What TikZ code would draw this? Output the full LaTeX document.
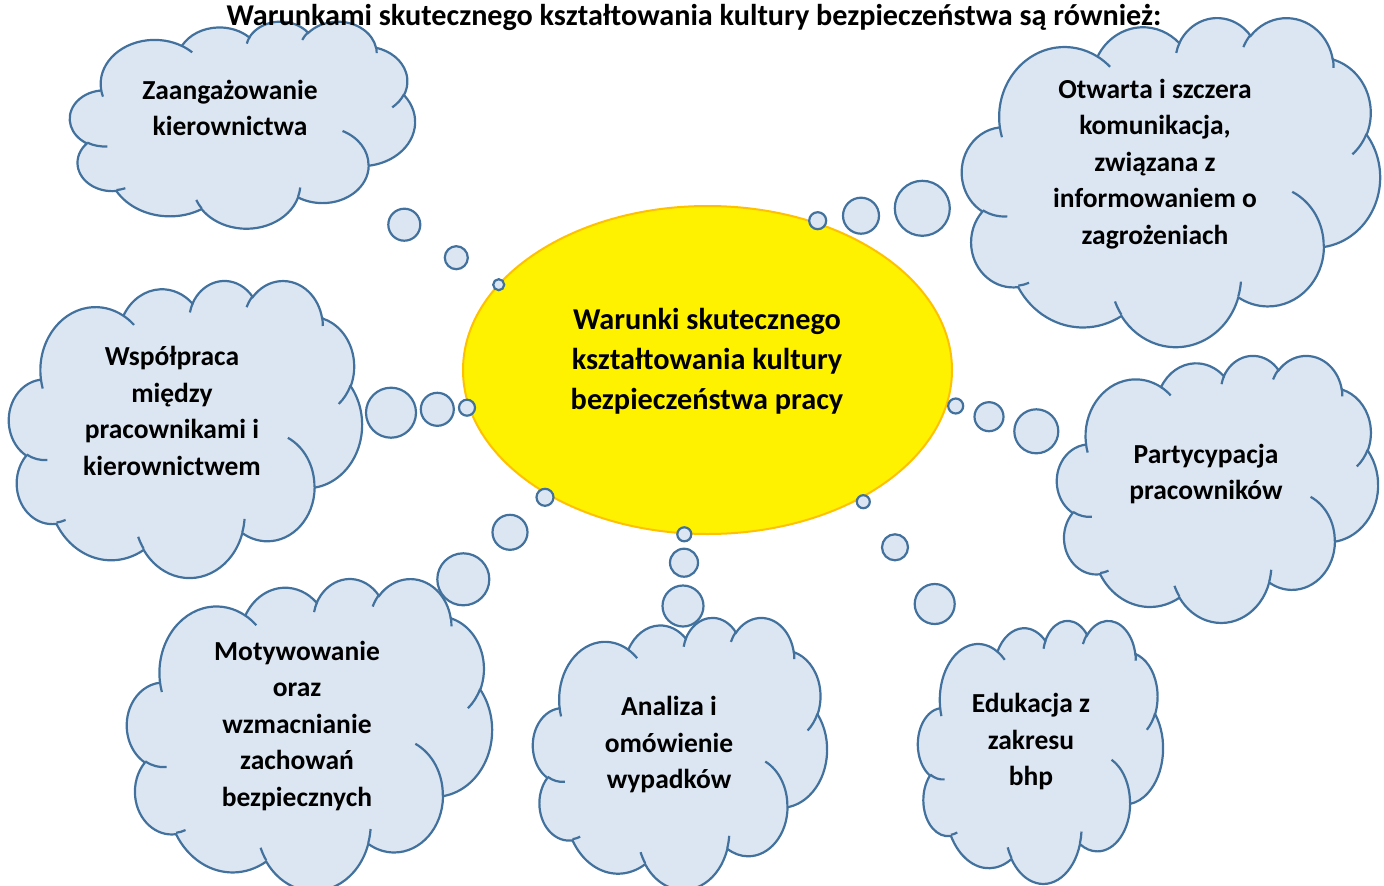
\documentclass[tikz,border=0pt]{standalone}
\usepackage{fontspec}
\setmainfont{Carlito}
\usetikzlibrary{shapes.geometric}
\definecolor{cloudfill}{HTML}{DCE6F2}
\definecolor{cloudline}{HTML}{41719C}
\definecolor{coreline}{HTML}{FFC000}
\tikzset{
  oa/.style n args={4}{x radius=#1pt, y radius=#2pt,
    start angle={atan2(#1*sin(#3),#2*cos(#3))},
    delta angle={mod(atan2(#1*sin(#3+#4),#2*cos(#3+#4))-atan2(#1*sin(#3),#2*cos(#3))+720,360)}},
  cloudshape/.style={fill=cloudfill, draw=cloudline, line width=2.2pt},
  cloudinner/.style={draw=cloudline, line width=2.2pt},
  bubble/.style={circle, fill=cloudfill, draw=cloudline, line width=2.2pt, inner sep=0pt, outer sep=0pt},
  cloudtext/.style={align=center, inner sep=0pt, font=\fontsize{27.5}{36.5}\selectfont\bfseries},
  coretext/.style={align=center, inner sep=0pt, font=\fontsize{30.3}{39.8}\selectfont\bfseries},
  titletext/.style={inner sep=0pt, font=\fontsize{30.2}{34}\selectfont\bfseries},
  core/.style={ellipse, fill=yellow, draw=coreline, line width=2pt, inner sep=0pt}
}
\newcommand\ocloud[5]{%
\begin{scope}[shift={(#2,#3)}, xscale=#4/43.2, yscale=-#5/43.2]
 \path[cloudshape] (3.9pt,14.37pt)
  arc[oa={6.753}{9.190}{-190.4875}{123.7805}]
  arc[oa={5.333}{7.267}{-144.1024}{89.9452}]
  arc[oa={4.365}{5.945}{-145.8079}{99.7230}]
  arc[oa={4.857}{6.595}{-130.9861}{117.2417}]
  arc[oa={5.333}{7.273}{-78.7089}{109.0269}]
  arc[oa={6.775}{9.220}{-46.2673}{130.2690}]
  arc[oa={5.785}{7.867}{0.6250}{114.0333}]
  arc[oa={6.752}{9.215}{22.4516}{115.1726}]
  arc[oa={7.720}{10.543}{66.2426}{75.7110}]
  arc[oa={4.360}{5.918}{-274.9421}{146.7356}]
  arc[oa={4.345}{5.945}{-246.8285}{152.5189}]
  -- cycle;
 \path[cloudinner] (4.693pt,26.177pt) arc[oa={4.345}{5.945}{86.742}{26.4295}]
   (6.928pt,34.899pt) arc[oa={4.360}{5.918}{73.6105}{11.4475}]
   (16.478pt,39.090pt) arc[oa={6.752}{9.215}{137.6242}{14.0811}]
   (28.827pt,34.751pt) arc[oa={6.752}{9.215}{6.4533}{15.9984}]
   (34.129pt,22.954pt) arc[oa={5.785}{7.867}{-70.2924}{70.9174}]
   (41.798pt,15.354pt) arc[oa={5.333}{7.273}{30.3180}{27.7515}]
   (38.324pt,5.426pt) arc[oa={4.857}{6.595}{-13.7443}{14.8589}]
   (29.078pt,3.952pt) arc[oa={4.857}{6.595}{-149.1815}{18.1954}]
   (22.141pt,4.720pt) arc[oa={4.365}{5.945}{-163.4943}{17.6864}]
   (14.000pt,5.192pt) arc[oa={6.753}{9.190}{-66.7070}{12.3194}]
   (4.127pt,15.789pt) arc[oa={6.753}{9.190}{157.64}{11.87}];
 \coordinate (#1) at (21.6pt,21.6pt);
\end{scope}}
\begin{document}
\begin{tikzpicture}[x=1pt,y=-1pt]
\useasboundingbox (0,0) rectangle (1384,886);
% clouds
\ocloud{c1}{70}{21}{345}{207}
\ocloud{c2}{962}{17}{418}{329}
\ocloud{c3}{9}{280}{353}{297}
\ocloud{c4}{1057}{355}{321}{267}
\ocloud{c5}{127}{578}{365}{312}
\ocloud{c6}{533}{617}{294}{272}
\ocloud{c7}{918}{620}{245}{263}
% central ellipse
\node[core, minimum width=489, minimum height=328] (core) at (707.5,370) {};
\node[coretext] (coretxt) at (707,361.5) {Warunki skutecznego\\kształtowania kultury\\bezpieczeństwa pracy};
% bubbles
\node[bubble, minimum size=32] (b11) at (404.3,224.7) {};
\node[bubble, minimum size=23] (b12) at (456.3,257.7) {};
\node[bubble, minimum size=11] (b13) at (498.7,284.7) {};
\node[bubble, minimum size=17] (b21) at (817.7,220.7) {};
\node[bubble, minimum size=36] (b22) at (861,215.7) {};
\node[bubble, minimum size=55] (b23) at (922.3,208.3) {};
\node[bubble, minimum size=50] (b31) at (391,412.7) {};
\node[bubble, minimum size=33] (b32) at (437.3,409.3) {};
\node[bubble, minimum size=16] (b33) at (467,407.7) {};
\node[bubble, minimum size=15] (b41) at (955.7,406) {};
\node[bubble, minimum size=29] (b42) at (989,416.7) {};
\node[bubble, minimum size=44] (b43) at (1036.3,431.3) {};
\node[bubble, minimum size=17] (b51) at (545,497.3) {};
\node[bubble, minimum size=35] (b52) at (510,532.3) {};
\node[bubble, minimum size=52] (b53) at (463.3,579.3) {};
\node[bubble, minimum size=14] (b61) at (684.3,534.3) {};
\node[bubble, minimum size=28] (b62) at (684,562.7) {};
\node[bubble, minimum size=41] (b63) at (683,606) {};
\node[bubble, minimum size=13] (b71) at (863.3,501.7) {};
\node[bubble, minimum size=26] (b72) at (895,547.3) {};
\node[bubble, minimum size=40] (b73) at (934.7,604) {};
% texts
\node[titletext] (title) at (694,17) {Warunkami skutecznego kształtowania kultury bezpieczeństwa są również:};
\node[cloudtext] (t1) at (230,108) {Zaangażowanie\\kierownictwa};
\node[cloudtext] (t2) at (1155,164) {Otwarta i szczera\\komunikacja,\\związana z\\informowaniem o\\zagrożeniach};
\node[cloudtext] (t3) at (172,411) {Współpraca\\między\\pracownikami i\\kierownictwem};
\node[cloudtext] (t4) at (1206,474) {Partycypacja\\pracowników};
\node[cloudtext] (t5) at (297,726) {Motywowanie\\oraz\\wzmacnianie\\zachowań\\bezpiecznych};
\node[cloudtext] (t6) at (669,745) {Analiza i\\omówienie\\wypadków};
\node[cloudtext] (t7) at (1031,742) {Edukacja z\\zakresu\\bhp};
\end{tikzpicture}
\end{document}
